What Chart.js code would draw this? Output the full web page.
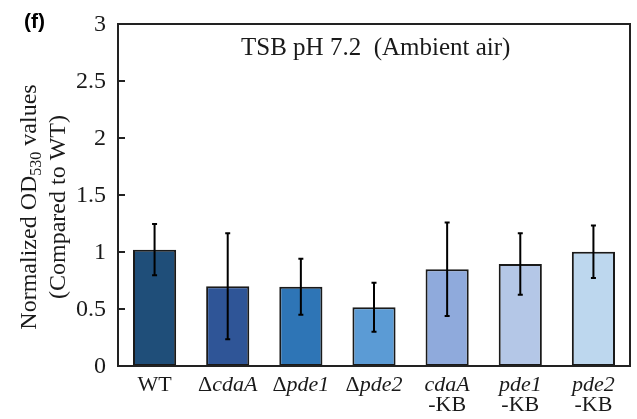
<!DOCTYPE html>
<html><head><meta charset="utf-8">
<script src="https://cdn.jsdelivr.net/npm/chart.js@4"></script>
<style>html,body{margin:0;padding:0;background:#fff}#wrap{width:637px;height:419px;position:relative}</style>
</head><body><div id="wrap"><canvas id="c" width="637" height="419"></canvas></div>
<script>
// ---- data ----
const categories = ['WT', 'ΔcdaA', 'Δpde1', 'Δpde2', 'cdaA-KB', 'pde1-KB', 'pde2-KB'];
const means = [1.02, 0.70, 0.695, 0.515, 0.848, 0.895, 1.003];
const errors = [0.225, 0.465, 0.245, 0.215, 0.41, 0.27, 0.23];
const yTickLabels = ['0', '0.5', '1', '1.5', '2', '2.5', '3'];
const chartTitle = 'TSB pH 7.2  (Ambient air)';
const yTitleMain = 'Normalized OD';
const yTitleSub = '530';
const yTitleEnd = ' values';
const yTitleLine2 = '(Compared to WT)';
const panelLabel = '(f)';

// ---- styles ----
const barColors = ['#1F4E79', '#2F5597', '#2E75B6', '#5B9BD5', '#8FAADC', '#B4C7E7', '#BDD7EE'];
const SERIF = '"Liberation Serif", "Times New Roman", serif';
const INK = '#1a1a1a';

function labelLines(name) {
  if (name.startsWith('Δ')) return [[['Δ', false], [name.slice(1), true]]];
  const k = name.indexOf('-KB');
  if (k > 0) return [[[name.slice(0, k), true]], [['-KB', false]]];
  return [[[name, false]]];
}

const decor = {
  id: 'decor',
  afterDatasetsDraw(chart) {
    const ctx = chart.ctx, x = chart.scales.x, y = chart.scales.y;
    ctx.save();
    ctx.strokeStyle = '#000';
    ctx.lineWidth = 2;
    means.forEach((m, i) => {
      const px = x.getPixelForValue(i);
      const t = y.getPixelForValue(m + errors[i]);
      const b = y.getPixelForValue(m - errors[i]);
      ctx.beginPath();
      ctx.moveTo(px, t); ctx.lineTo(px, b);
      ctx.moveTo(px - 2.5, t); ctx.lineTo(px + 2.5, t);
      ctx.moveTo(px - 2.5, b); ctx.lineTo(px + 2.5, b);
      ctx.stroke();
    });
    ctx.restore();
  },
  afterDraw(chart) {
    const ctx = chart.ctx, x = chart.scales.x, y = chart.scales.y, a = chart.chartArea;
    ctx.save();
    ctx.strokeStyle = '#222';
    ctx.lineWidth = 2;
    ctx.strokeRect(a.left, a.top, a.right - a.left, a.bottom - a.top);
    ctx.fillStyle = INK;
    ctx.font = '24px ' + SERIF;
    ctx.textAlign = 'right';
    ctx.textBaseline = 'middle';
    yTickLabels.forEach(l => {
      const py = y.getPixelForValue(parseFloat(l));
      ctx.beginPath();
      ctx.moveTo(a.left, py); ctx.lineTo(a.left + 7, py);
      ctx.stroke();
      ctx.fillText(l, a.left - 12, py + 1);
    });
    ctx.textAlign = 'left';
    ctx.textBaseline = 'alphabetic';
    categories.forEach((name, i) => {
      const cx = x.getPixelForValue(i);
      labelLines(name).forEach((line, li) => {
        let w = 0;
        line.forEach(([t, it]) => { ctx.font = (it ? 'italic ' : '') + '22px ' + SERIF; w += ctx.measureText(t).width; });
        let sx = cx - w / 2;
        line.forEach(([t, it]) => {
          ctx.font = (it ? 'italic ' : '') + '22px ' + SERIF;
          ctx.fillText(t, sx, 391 + li * 20);
          sx += ctx.measureText(t).width;
        });
      });
    });
    ctx.font = '25px ' + SERIF;
    ctx.textAlign = 'left';
    ctx.fillText(chartTitle, 241, 55);
    const yc = 207;
    ctx.save();
    ctx.translate(36, yc);
    ctx.rotate(-Math.PI / 2);
    ctx.font = '24px ' + SERIF;
    const w1 = ctx.measureText(yTitleMain).width;
    const w3 = ctx.measureText(yTitleEnd).width;
    ctx.font = '16px ' + SERIF;
    const w2 = ctx.measureText(yTitleSub).width;
    let sx = -(w1 + w2 + w3) / 2;
    ctx.font = '24px ' + SERIF;
    ctx.fillText(yTitleMain, sx, 0); sx += w1;
    ctx.font = '16px ' + SERIF;
    ctx.fillText(yTitleSub, sx, 5); sx += w2;
    ctx.font = '24px ' + SERIF;
    ctx.fillText(yTitleEnd, sx, 0);
    ctx.textAlign = 'center';
    ctx.fillText(yTitleLine2, 0, 29);
    ctx.restore();
    ctx.font = 'bold 21px "Liberation Sans", Arial, sans-serif';
    ctx.textAlign = 'left';
    ctx.fillStyle = '#000';
    ctx.fillText(panelLabel, 24, 28);
    ctx.restore();
  }
};

new Chart(document.getElementById('c'), {
  type: 'bar',
  data: {
    labels: categories,
    datasets: [{
      data: means,
      backgroundColor: barColors,
      borderColor: INK,
      borderWidth: 2,
      borderSkipped: false,
      barPercentage: 0.59,
      categoryPercentage: 1
    }]
  },
  options: {
    responsive: false,
    animation: false,
    devicePixelRatio: 1,
    layout: { padding: { left: 118, right: 7, top: 24, bottom: 53 } },
    plugins: { legend: { display: false }, tooltip: { enabled: false }, title: { display: false } },
    scales: {
      x: { display: false },
      y: { display: false, min: 0, max: 3 }
    }
  },
  plugins: [decor]
});
</script>
</body></html>
